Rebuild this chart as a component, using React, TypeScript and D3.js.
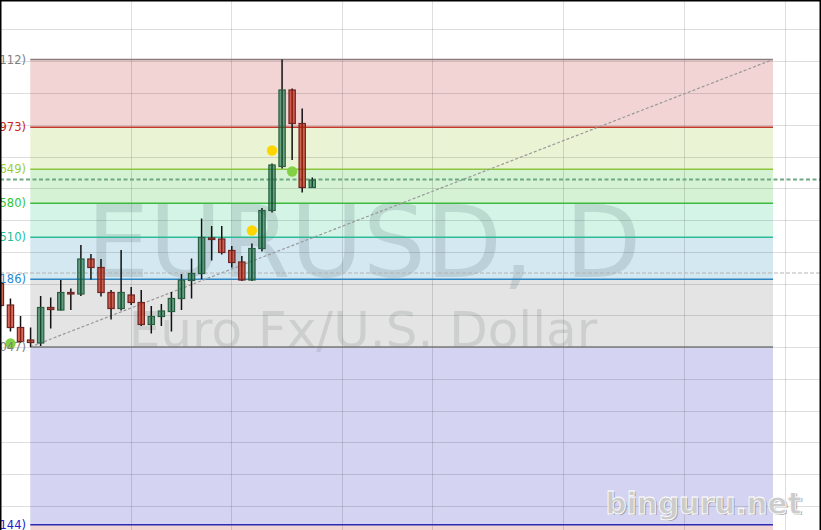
import React from "react";
import * as d3 from "d3";

const W = 821;
const H = 530;

// Daily candles (EURUSD, D)
const opens = [1.0664, 1.0621, 1.0576, 1.0551, 1.0545, 1.0616, 1.0611, 1.0646, 1.0643, 1.0713, 1.0696, 1.0646, 1.0614, 1.0641, 1.0626, 1.0582, 1.0598, 1.0608, 1.0634, 1.0670, 1.0684, 1.0755, 1.0753, 1.0730, 1.0707, 1.0671, 1.0734, 1.0810, 1.0898, 1.1051, 1.0984, 1.0856];
const highs = [1.0669, 1.0634, 1.0599, 1.0576, 1.0639, 1.0636, 1.0671, 1.0654, 1.0741, 1.0723, 1.0713, 1.0651, 1.0731, 1.0657, 1.0651, 1.0619, 1.0623, 1.0647, 1.0683, 1.0714, 1.0794, 1.0779, 1.0779, 1.0739, 1.0719, 1.0744, 1.0815, 1.0904, 1.1112, 1.1054, 1.1014, 1.0876];
const lows = [1.0615, 1.0568, 1.0545, 1.0537, 1.0539, 1.0574, 1.0610, 1.0611, 1.0639, 1.0672, 1.0638, 1.0592, 1.0610, 1.0621, 1.0579, 1.0564, 1.0579, 1.0568, 1.0611, 1.0634, 1.0673, 1.0710, 1.0722, 1.0696, 1.0669, 1.0669, 1.0728, 1.0806, 1.0894, 1.0911, 1.0846, 1.0856];
const closes = [1.0620, 1.0576, 1.0548, 1.0546, 1.0616, 1.0612, 1.0646, 1.0644, 1.0713, 1.0696, 1.0646, 1.0614, 1.0646, 1.0626, 1.0582, 1.0598, 1.0609, 1.0634, 1.0671, 1.0684, 1.0756, 1.0752, 1.0726, 1.0706, 1.0671, 1.0734, 1.0810, 1.0901, 1.1051, 1.0984, 1.0856, 1.0871];

// Fibonacci retracement
const fibHigh = 1.1112;
const fibLow = 1.0537;
const fibStartIdx = 2.97;
const fibEndIdx = 76.8;
const fibLevels = [0, 0.236, 0.382, 0.5, 0.618, 0.764, 1, 1.618];
const fibBandEdge = 2.618;
const fibLabels = ["(1.1112)", "(1.0973)", "(1.0649)", "(1.0580)", "(1.0510)", "(1.0186)", "(1.0047)", "(0.9144)"];
const fibLineColors = ["#8a7c7c", "#c0392b", "#8cc63f", "#3cba3c", "#2dbb95", "#2f86c0", "#7a7a7a", "#2a2ab4"];
const fibLabelColors = ["#808080", "#cc2222", "#9acd32", "#33c433", "#22c09a", "#2a8ad4", "#808080", "#2222cc"];
const fibBandColors = ["#f2d4d4", "#eaf4d4", "#d6f2d4", "#d4f4e8", "#d4e8f2", "#e4e4e4", "#d4d4f2", "#f2d4d4"];

// Grid
const gridIdx = [13, 23, 34, 43, 56, 68, 78];
const gridPrices = [1.1171, 1.11075, 1.1044, 1.09805, 1.0917, 1.08535, 1.079, 1.07265, 1.0663, 1.05995, 1.0536, 1.04725, 1.0409, 1.03455, 1.0282, 1.02185];

// Price lines
const bidPrice = 1.0872;
const askPrice = 1.0685;

// Signal dots
const dotIdx = [1, 27, 25, 29];
const dotPrice = [1.0544, 1.0930, 1.0770, 1.0888];
const dotColors = ["#82d043", "#ffd500", "#ffd500", "#82d043"];

export default function App() {
  const x = d3.scaleLinear().domain([0, 1]).range([0.4, 10.46]);
  const y = d3.scaleLinear().domain([fibLow, fibHigh]).range([347, 59.5]);
  const crisp = (v: number) => Math.round(v - 0.5) + 0.5;
  const bodyW = 6.3;
  const levelY = (l: number) => y(fibHigh - l * (fibHigh - fibLow));
  const edges = [...fibLevels, fibBandEdge];
  const fx0 = x(fibStartIdx);
  const fx1 = x(fibEndIdx);

  return (
    <div style={{ position: "fixed", left: 0, top: 0, width: W, height: H, overflow: "hidden", background: "#fff" }}>
      <svg width={W} height={H} style={{ display: "block", fontFamily: "DejaVu Sans, Verdana, sans-serif" }}>
        <rect x={0} y={0} width={W} height={H} fill="#ffffff" />
        {/* fib bands */}
        {fibLevels.map((l, i) => {
          const ya = levelY(l);
          const yb = Math.min(levelY(edges[i + 1]), H + 5);
          return <rect key={"b" + i} x={fx0} y={ya} width={fx1 - fx0} height={yb - ya} fill={fibBandColors[i]} />;
        })}
        {/* grid */}
        {gridPrices.map((p, i) => (
          <line key={"gh" + i} x1={0} x2={W} y1={crisp(y(p))} y2={crisp(y(p))} stroke="rgba(0,0,0,0.13)" strokeWidth={1} />
        ))}
        {gridIdx.map((g, i) => (
          <line key={"gv" + i} x1={crisp(x(g))} x2={crisp(x(g))} y1={0} y2={H} stroke="rgba(0,0,0,0.13)" strokeWidth={1} />
        ))}
        {/* watermark */}
        <text x={364} y={277} textAnchor="middle" fontSize={99} fill="rgb(90,115,115)" fillOpacity={0.2}>EURUSD, D</text>
        <text x={363} y={347} textAnchor="middle" fontSize={50} fill="rgb(90,100,100)" fillOpacity={0.16}>Euro Fx/U.S. Dollar</text>
        {/* fib lines */}
        {fibLevels.map((l, i) => (
          <line key={"fl" + i} x1={fx0} x2={fx1} y1={levelY(l)} y2={levelY(l)} stroke={fibLineColors[i]} strokeWidth={1.5} />
        ))}
        {/* diagonal trend line */}
        <line x1={fx0} y1={y(fibLow)} x2={fx1} y2={y(fibHigh)} stroke="#999" strokeWidth={1.2} strokeDasharray="3,2" />
        {/* price lines */}
        <line x1={0} x2={W} y1={y(askPrice)} y2={y(askPrice)} stroke="#b4b4b4" strokeWidth={1} strokeDasharray="4,2" />
        <line x1={0} x2={W} y1={y(bidPrice)} y2={y(bidPrice)} stroke="#6fa882" strokeWidth={2} strokeDasharray="4,2.5" />
        {/* candles */}
        {opens.map((o, i) => {
          const c = closes[i];
          const bull = c >= o;
          const cx = x(i);
          const top = y(Math.max(o, c));
          const bot = y(Math.min(o, c));
          return (
            <g key={"c" + i}>
              <line x1={cx} x2={cx} y1={y(highs[i])} y2={y(lows[i])} stroke="#111" strokeWidth={1.5} />
              <rect
                x={cx - bodyW / 2}
                y={top}
                width={bodyW}
                height={Math.max(bot - top, 1.5)}
                fill={bull ? "rgba(20,112,66,0.6)" : "rgba(195,35,15,0.68)"}
                stroke={bull ? "#2a5e40" : "#6e2420"}
                strokeWidth={1.2}
              />
            </g>
          );
        })}
        {/* dots */}
        {dotIdx.map((d, i) => (
          <circle key={"d" + i} cx={x(d)} cy={y(dotPrice[i])} r={5.2} fill={dotColors[i]} />
        ))}
        {/* fib labels */}
        {fibLevels.map((l, i) => (
          <text key={"t" + i} x={26} y={levelY(l)} dy="0.36em" textAnchor="end" fontSize={11.5} fill={fibLabelColors[i]}>
            {fibLabels[i]}
          </text>
        ))}
        {/* site watermark */}
        <text x={607} y={515} fontSize={29.5} fontWeight="bold" fill="#8c8c8c" fillOpacity={0.7}>binguru.net</text>
        <text x={605.5} y={513.5} fontSize={29.5} fontWeight="bold" fill="#cccccc" stroke="#ffffff" strokeWidth={0.8}>binguru.net</text>
        {/* frame */}
        <line x1={0.75} x2={0.75} y1={0} y2={H} stroke="#000" strokeWidth={1.5} />
        <line x1={0} x2={W} y1={0.75} y2={0.75} stroke="#000" strokeWidth={1.5} />
        <line x1={W - 0.75} x2={W - 0.75} y1={0} y2={H} stroke="#000" strokeWidth={1.5} />
      </svg>
    </div>
  );
}
